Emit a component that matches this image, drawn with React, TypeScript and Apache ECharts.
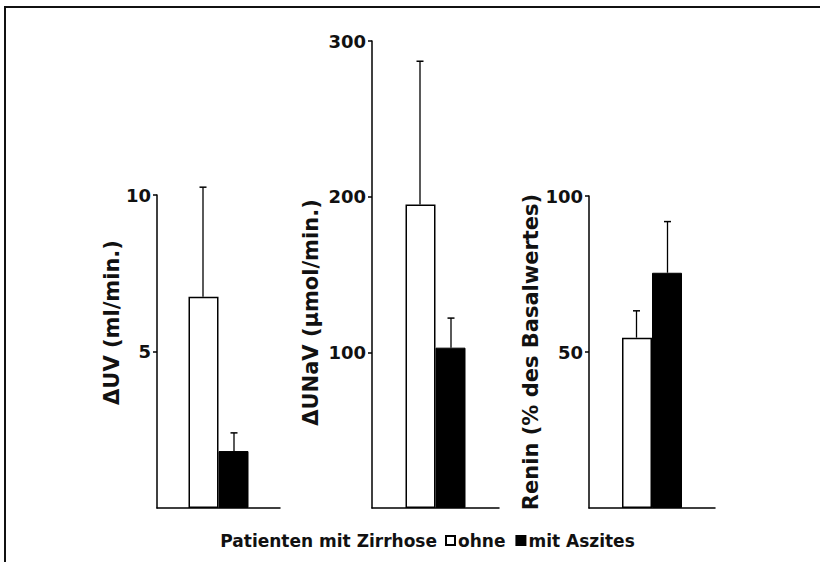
import React, { useEffect, useRef } from "react";
import * as echarts from "echarts";

// Panels (one per measured quantity)
const panelNames = ["ΔUV (ml/min.)", "ΔUNaV (µmol/min.)", "Renin (% des Basalwertes)"];
const axisMax = [10, 300, 100];
const tickValues = [
  [5, 10],
  [100, 200, 300],
  [50, 100],
];

// Group means and standard deviations (upper error bar)
const ohneMean = [6.75, 195, 54.6];
const ohneSD = [3.5, 92, 8.6];
const mitMean = [1.82, 103, 75.4];
const mitSD = [0.58, 19, 16.4];

const seriesNames = ["ohne", "mit Aszites"];
const legendPrefix = "Patienten mit Zirrhose";

const FONT = "DejaVu Sans";

export default function App() {
  const ref = useRef<HTMLDivElement>(null);

  useEffect(() => {
    if (!ref.current) return;
    const chart = echarts.init(ref.current, null, { renderer: "svg" });

    const grids = [
      { left: 157, top: 195, width: 123, height: 313 },
      { left: 372, top: 41, width: 127, height: 467 },
      { left: 589, top: 196, width: 126, height: 312 },
    ];
    const nameGaps = [23, 51, 26];
    // [left, right] padding used to slide the rotated names along their axes
    const namePads = [
      [58, 0],
      [0, 76],
      [0, 0],
    ];

    const xAxis = grids.map((_, i) => ({
      type: "category",
      gridIndex: i,
      data: [""],
      axisTick: { show: false },
      axisLabel: { show: false },
      axisLine: { show: true, lineStyle: { color: "#000", width: 1.5 } },
    }));

    const yAxis = grids.map((_, i) => ({
      type: "value",
      gridIndex: i,
      min: 0,
      max: axisMax[i],
      name: panelNames[i],
      nameLocation: "middle",
      nameRotate: 90,
      nameGap: nameGaps[i],
      nameTextStyle: {
        fontFamily: FONT,
        fontWeight: "bold",
        fontSize: 21,
        color: "#111",
        padding: [0, namePads[i][1], 0, namePads[i][0]],
      },
      splitLine: { show: false },
      axisLine: { show: true, lineStyle: { color: "#000", width: 1.5 } },
      axisTick: {
        show: true,
        length: 4,
        customValues: tickValues[i],
        lineStyle: { color: "#000", width: 1.5 },
      },
      axisLabel: {
        customValues: tickValues[i],
        margin: 6,
        fontFamily: FONT,
        fontWeight: "bold",
        fontSize: 18,
        color: "#111",
      },
    }));

    const series: any[] = [];
    const errSeries = (gi: number, mean: number, sd: number, offset: number) => ({
      type: "custom",
      xAxisIndex: gi,
      yAxisIndex: gi,
      z: 5,
      silent: true,
      data: [[0, mean, sd]],
      encode: { x: 0, y: 1 },
      renderItem: (params: any, api: any) => {
        const base = api.coord([api.value(0), api.value(1)]);
        const top = api.coord([api.value(0), api.value(1) + api.value(2)]);
        const x = base[0] + offset;
        return {
          type: "group",
          children: [
            { type: "line", shape: { x1: x, y1: base[1], x2: x, y2: top[1] }, style: { stroke: "#000", lineWidth: 1.3 } },
            { type: "line", shape: { x1: x - 3.5, y1: top[1], x2: x + 3.5, y2: top[1] }, style: { stroke: "#000", lineWidth: 1.5 } },
          ],
        };
      },
    });

    grids.forEach((_, i) => {
      series.push({
        type: "bar",
        name: seriesNames[0],
        xAxisIndex: i,
        yAxisIndex: i,
        data: [ohneMean[i]],
        barWidth: 30,
        barGap: "0%",
        itemStyle: { color: "#fff", borderColor: "#000", borderWidth: 1.5 },
      });
      series.push({
        type: "bar",
        name: seriesNames[1],
        xAxisIndex: i,
        yAxisIndex: i,
        data: [mitMean[i]],
        barWidth: 30,
        barGap: "0%",
        itemStyle: { color: "#000", borderColor: "#000", borderWidth: 1 },
      });
      series.push(errSeries(i, ohneMean[i], ohneSD[i], -15.5));
      series.push(errSeries(i, mitMean[i], mitSD[i], 15.5));
    });

    chart.setOption({
      animation: false,
      backgroundColor: "#fff",
      grid: grids,
      xAxis,
      yAxis,
      series,
      legend: {
        data: seriesNames,
        left: 445,
        top: 532,
        padding: 0,
        icon: "rect",
        itemWidth: 9,
        itemHeight: 9,
        itemGap: 10,
        selectedMode: false,
        textStyle: { fontFamily: FONT, fontWeight: "bold", fontSize: 17, color: "#111", padding: [0, 0, 0, -2] },
      },
      graphic: [
        {
          type: "rect",
          silent: true,
          shape: { x: 5, y: 7, width: 1200, height: 1200 },
          style: { fill: "none", stroke: "#111", lineWidth: 2 },
        },
        {
          type: "text",
          silent: true,
          x: 437,
          y: 541,
          style: {
            text: legendPrefix,
            align: "right",
            verticalAlign: "middle",
            fontFamily: FONT,
            fontWeight: "bold",
            fontSize: 17,
            fill: "#111",
          },
        },
      ],
    });

    return () => chart.dispose();
  }, []);

  return (
    <div
      ref={ref}
      style={{ position: "absolute", left: 0, top: 0, width: 820, height: 562, background: "#fff" }}
    />
  );
}
